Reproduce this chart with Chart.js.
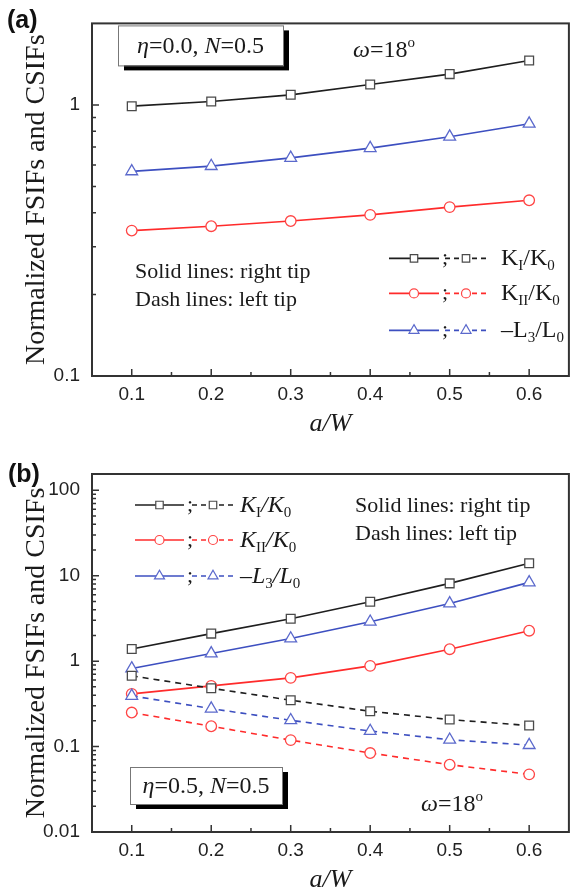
<!DOCTYPE html>
<html>
<head>
<meta charset="utf-8">
<script src="https://cdn.jsdelivr.net/npm/chart.js@4.4.1/dist/chart.umd.min.js"></script>
<style>
  body { margin: 0; background: #fff; overflow: hidden; }
  canvas { display: block; }
</style>
</head>
<body>
<canvas id="chartA" width="577" height="446"></canvas>
<canvas id="chartB" width="577" height="456"></canvas>
<script>
// crack length ratio a/W
const aOverW = [0.1, 0.2, 0.3, 0.4, 0.5, 0.6];

// (a) eta = 0.0 -> right and left tips give the same values, only solid lines show
const aKI  = [0.99, 1.03, 1.09, 1.19, 1.30, 1.46];
const aKII = [0.344, 0.357, 0.373, 0.393, 0.420, 0.445];
const aL3  = [0.569, 0.595, 0.638, 0.693, 0.764, 0.853];

// (b) eta = 0.5
const bKIRight  = [1.39, 2.10, 3.13, 4.96, 8.13, 13.97];
const bKILeft   = [0.673, 0.482, 0.349, 0.259, 0.207, 0.176];
const bKIIRight = [0.414, 0.513, 0.637, 0.88, 1.38, 2.27];
const bKIILeft  = [0.25, 0.173, 0.119, 0.084, 0.0613, 0.0473];
const bL3Right  = [0.82, 1.23, 1.84, 2.89, 4.73, 8.35];
const bL3Left   = [0.392, 0.278, 0.203, 0.152, 0.120, 0.104];

const xRange  = [0.05, 0.65];
const yRangeA = [0.1, 2];
const yRangeB = [0.01, 155];

const SERIF = '"Liberation Serif", "Times New Roman", serif';
const SANS = '"Liberation Sans", Arial, sans-serif';
const INK = '#1a1a1a';

const styles = {
  KI:  { color: '#1e1e1e', marker: '#4a4a4a', point: 'rect', radius: 6.2 },
  KII: { color: '#ff2b2b', marker: '#ff4545', point: 'circle', radius: 5.3 },
  L3:  { color: '#3d4fc0', marker: '#5b69cc', point: 'triangle', radius: 6.8 },
};

function series(values, s, dashed) {
  return {
    data: aOverW.map((x, i) => ({ x: x, y: values[i] })),
    borderColor: s.color,
    borderWidth: 1.6,
    borderDash: dashed ? [6, 5] : [],
    pointStyle: s.point,
    pointRadius: s.radius,
    pointBorderColor: s.marker,
    pointBackgroundColor: '#fff',
    pointBorderWidth: 1.3,
    tension: 0,
    fill: false,
  };
}

function isPow10(v) {
  const l = Math.log10(v);
  return Math.abs(l - Math.round(l)) < 1e-9;
}

function scales(yr) {
  return {
    x: {
      type: 'linear', min: xRange[0], max: xRange[1],
      ticks: {
        stepSize: 0.05, autoSkip: false, maxRotation: 0, padding: 7,
        color: '#222', font: { family: SANS, size: 19 },
        callback: v => {
          const t = v * 10;
          return Math.abs(t - Math.round(t)) < 1e-6 && v > 0.07 && v < 0.63 ? v.toFixed(1) : '';
        },
      },
      grid: { display: false, drawTicks: false },
      border: { display: false },
      title: {
        display: true, text: 'a/W', color: INK,
        font: { family: SERIF, size: 26, style: 'italic' },
        padding: { top: 0, bottom: 6 },
      },
      afterFit: s => { s.height = 70; },
    },
    y: {
      type: 'logarithmic', min: yr[0], max: yr[1],
      ticks: {
        autoSkip: false, padding: 12, color: '#222', font: { family: SANS, size: 19 },
        callback: v => isPow10(v) ? String(Number(v.toPrecision(3))) : '',
      },
      grid: { display: false, drawTicks: false },
      border: { display: false },
      title: {
        display: true, text: 'Normalized FSIFs and CSIFs', color: INK,
        font: { family: SERIF, size: 28 },
        padding: { top: 20, bottom: 0 },
      },
      afterFit: s => { s.width = 92; },
    },
  };
}

// draw a row of text pieces: [text, font, dy]
function textRun(ctx, x, y, parts, align) {
  let w = 0;
  parts.forEach(p => { ctx.font = p[1]; w += ctx.measureText(p[0]).width; });
  let cx = align === 'center' ? x - w / 2 : x;
  parts.forEach(p => {
    ctx.font = p[1];
    ctx.fillText(p[0], cx, y + (p[2] || 0));
    cx += ctx.measureText(p[0]).width;
  });
}

function marker(ctx, s, x, y, r) {
  ctx.save();
  ctx.fillStyle = '#fff';
  ctx.strokeStyle = s.marker;
  ctx.lineWidth = 1.2;
  Chart.helpers.drawPoint(ctx, { pointStyle: s.point, radius: r, borderWidth: 1.2, rotation: 0 }, x, y);
  ctx.restore();
}

function legendRow(ctx, s, L, y, pos, label) {
  ctx.save();
  ctx.strokeStyle = s.color;
  ctx.lineWidth = 1.6;
  ctx.beginPath();
  ctx.moveTo(L + pos.solid[0], y); ctx.lineTo(L + pos.solid[1], y);
  ctx.stroke();
  ctx.setLineDash([5, 4]);
  ctx.beginPath();
  ctx.moveTo(L + pos.dash[0], y); ctx.lineTo(L + pos.dash[1], y);
  ctx.stroke();
  ctx.restore();
  marker(ctx, s, L + (pos.solid[0] + pos.solid[1]) / 2, y, s.radius * 0.85);
  marker(ctx, s, L + (pos.dash[0] + pos.dash[1]) / 2, y, s.radius * 0.85);
  ctx.fillStyle = INK;
  ctx.font = '22px ' + SERIF;
  ctx.fillText(';', L + pos.semi, y + 6);
  textRun(ctx, L + pos.text, y + 7, label);
}

function infoBox(ctx, x0, y0, x1, y1, parts, baseline) {
  ctx.save();
  ctx.fillStyle = '#000';
  ctx.fillRect(x0 + 6, y0 + 5, x1 - x0, y1 - y0);
  ctx.fillStyle = '#fff';
  ctx.fillRect(x0, y0, x1 - x0, y1 - y0);
  ctx.strokeStyle = '#777';
  ctx.lineWidth = 1;
  ctx.strokeRect(x0 + 0.5, y0 + 0.5, x1 - x0, y1 - y0);
  ctx.fillStyle = INK;
  textRun(ctx, (x0 + x1) / 2, baseline, parts, 'center');
  ctx.restore();
}

function frameAndTicks(chart) {
  const { ctx, chartArea: a } = chart;
  const xs = chart.scales.x, ys = chart.scales.y;
  ctx.save();
  ctx.strokeStyle = '#333';
  ctx.lineWidth = 1.5;
  ctx.beginPath();
  xs.ticks.forEach(t => {
    const v = t.value;
    if (v <= xRange[0] + 1e-6 || v >= xRange[1] - 1e-6) return;
    const px = xs.getPixelForValue(v);
    const major = Math.abs(v * 10 - Math.round(v * 10)) < 1e-6;
    ctx.moveTo(px, a.bottom);
    ctx.lineTo(px, a.bottom - (major ? 7 : 4));
  });
  ys.ticks.forEach(t => {
    const v = t.value;
    const sig = v / Math.pow(10, Math.floor(Math.log10(v) + 1e-9));
    if (Math.abs(sig - Math.round(sig)) > 1e-6) return;
    const py = ys.getPixelForValue(v);
    if (py < a.top + 1 || py > a.bottom - 1) return;
    ctx.moveTo(a.left, py);
    ctx.lineTo(a.left + (isPow10(v) ? 7 : 4), py);
  });
  ctx.stroke();
  ctx.strokeStyle = '#333';
  ctx.lineWidth = 2;
  ctx.strokeRect(a.left, a.top, a.right - a.left, a.bottom - a.top);
  ctx.restore();
}

const f24 = '24px ' + SERIF;
const i24 = 'italic 24px ' + SERIF;
const sub = '15px ' + SERIF;
const sup = '15px ' + SERIF;

const decorA = {
  id: 'decorA',
  afterDraw(chart) {
    const ctx = chart.ctx;
    const L = chart.chartArea.left, T = chart.chartArea.top;
    frameAndTicks(chart);
    ctx.save();
    ctx.fillStyle = '#111';
    ctx.font = 'bold 25px ' + SANS;
    ctx.fillText('(a)', 7, 28);
    infoBox(ctx, L + 26, T + 2, L + 191, T + 42,
      [['η', i24], ['=0.0, ', f24], ['N', i24], ['=0.5', f24]], T + 30);
    ctx.fillStyle = INK;
    textRun(ctx, L + 261, T + 34, [['ω', i24], ['=18', f24], ['o', sup, -10]]);
    ctx.font = '22px ' + SERIF;
    ctx.fillText('Solid lines: right tip', L + 43, T + 255);
    ctx.fillText('Dash lines: left tip', L + 43, T + 283);
    const pos = { solid: [297, 347], dash: [353, 395], semi: 350, text: 409 };
    legendRow(ctx, styles.KI, L, T + 235, pos, [['K', f24], ['I', sub, 5], ['/K', f24], ['0', sub, 5]]);
    legendRow(ctx, styles.KII, L, T + 270, pos, [['K', f24], ['II', sub, 5], ['/K', f24], ['0', sub, 5]]);
    legendRow(ctx, styles.L3, L, T + 307, pos, [['–L', f24], ['3', sub, 5], ['/L', f24], ['0', sub, 5]]);
    ctx.restore();
  },
};

const decorB = {
  id: 'decorB',
  afterDraw(chart) {
    const ctx = chart.ctx;
    const L = chart.chartArea.left, T = chart.chartArea.top;
    frameAndTicks(chart);
    ctx.save();
    ctx.fillStyle = '#111';
    ctx.font = 'bold 25px ' + SANS;
    ctx.fillText('(b)', 8, 36);
    const pos = { solid: [43, 92], dash: [100, 142], semi: 95, text: 148 };
    legendRow(ctx, styles.KI, L, T + 31, pos, [['K', i24], ['I', sub, 5], ['/', i24], ['K', i24], ['0', sub, 5]]);
    legendRow(ctx, styles.KII, L, T + 66, pos, [['K', i24], ['II', sub, 5], ['/', i24], ['K', i24], ['0', sub, 5]]);
    legendRow(ctx, styles.L3, L, T + 102, pos, [['–', f24], ['L', i24], ['3', sub, 5], ['/', i24], ['L', i24], ['0', sub, 5]]);
    ctx.fillStyle = INK;
    ctx.font = '22px ' + SERIF;
    ctx.fillText('Solid lines: right tip', L + 263, T + 38);
    ctx.fillText('Dash lines: left tip', L + 263, T + 66);
    infoBox(ctx, L + 38, T + 293, L + 190, T + 330,
      [['η', i24], ['=0.5, ', f24], ['N', i24], ['=0.5', f24]], T + 319);
    ctx.fillStyle = INK;
    textRun(ctx, L + 329, T + 337, [['ω', i24], ['=18', f24], ['o', sup, -10]]);
    ctx.restore();
  },
};

Chart.defaults.animation = false;

new Chart(document.getElementById('chartA'), {
  type: 'line',
  data: {
    datasets: [
      series(aKI, styles.KI, false),
      series(aKII, styles.KII, false),
      series(aL3, styles.L3, false),
    ],
  },
  options: {
    responsive: false,
    layout: { padding: { top: 20, right: 1, left: 0, bottom: 0 } },
    plugins: { legend: { display: false }, tooltip: { enabled: false } },
    scales: scales(yRangeA),
  },
  plugins: [decorA],
});

new Chart(document.getElementById('chartB'), {
  type: 'line',
  data: {
    datasets: [
      series(bKILeft, styles.KI, true),
      series(bKIILeft, styles.KII, true),
      series(bL3Left, styles.L3, true),
      series(bKIRight, styles.KI, false),
      series(bKIIRight, styles.KII, false),
      series(bL3Right, styles.L3, false),
    ],
  },
  options: {
    responsive: false,
    layout: { padding: { top: 28, right: 1, left: 0, bottom: 0 } },
    plugins: { legend: { display: false }, tooltip: { enabled: false } },
    scales: scales(yRangeB),
  },
  plugins: [decorB],
});
</script>
</body>
</html>
